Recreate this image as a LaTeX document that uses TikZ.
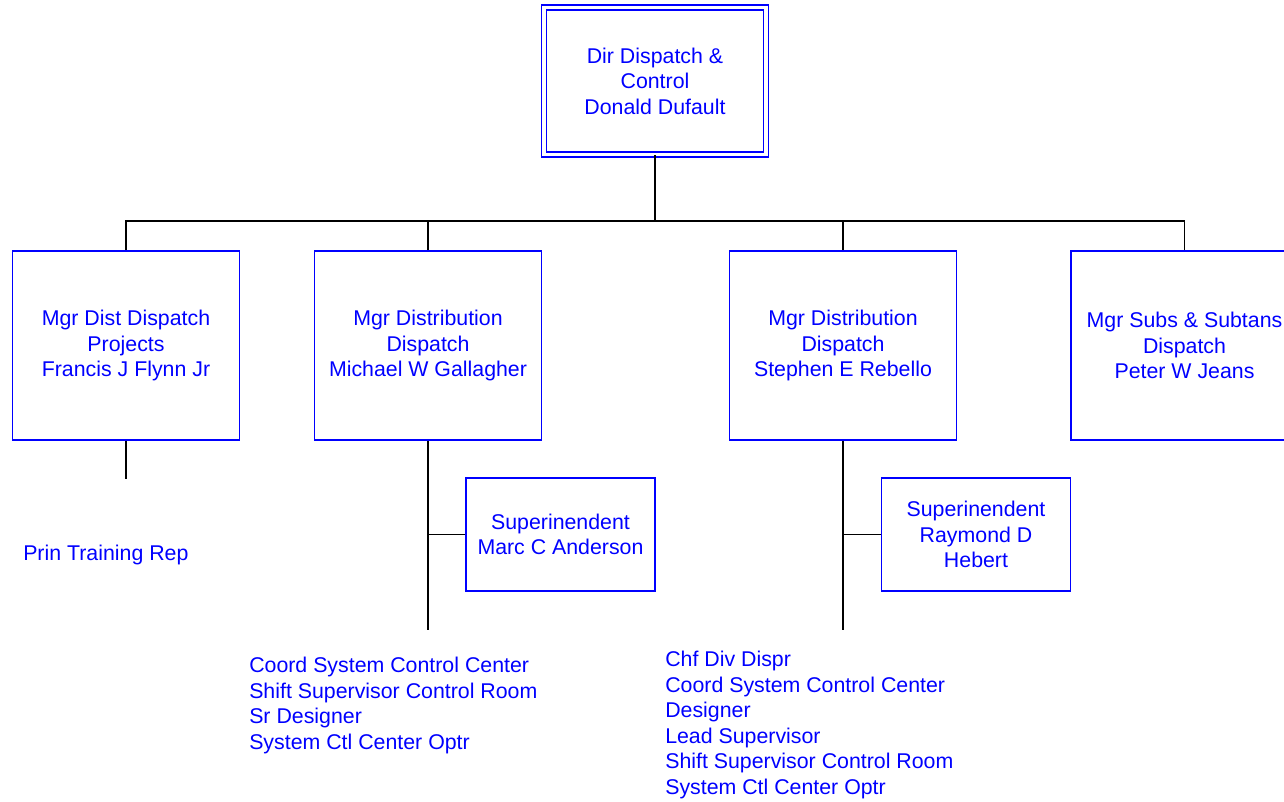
\documentclass[tikz,border=0pt]{standalone}
\usepackage{fontspec}
\setmainfont{Liberation Sans}
\usepackage{tikz}
\usetikzlibrary{positioning}
\definecolor{orgblue}{RGB}{0,0,255}
\newcommand{\orgfont}{\fontsize{16pt}{19.1pt}\selectfont}
\tikzset{
    posbox/.style = {rectangle,draw=orgblue,line width=1.2pt,text=orgblue,font=\orgfont,align=center,inner sep=0pt},
    dirbox/.style = {posbox,double=white,double distance=2.4pt,minimum width=166.5pt,minimum height=110.25pt},
    mgrbox/.style = {posbox,minimum width=170.25pt,minimum height=141.75pt},
    supbox/.style = {posbox,minimum width=141.75pt,minimum height=84.75pt},
    stafflist/.style = {text=orgblue,font=\orgfont,align=left,inner sep=0pt,anchor=north west},
    link/.style = {draw=black,line width=1.2pt}}
\begin{document}
\begin{tikzpicture}[x=0.75pt,y=-0.75pt]
    \useasboundingbox (0,0) rectangle (1284,802);
    \path (655,81) node[dirbox] (dir) {Dir Dispatch \&\\Control\\Donald Dufault}
        + (0,140) coordinate (bus)
        (126,345.5) node[mgrbox] (flynn) {Mgr Dist Dispatch\\Projects\\Francis J Flynn Jr}
        + (0,133.5) coordinate (flynnend)
        (428,345.5) node[mgrbox] (gallagher) {Mgr Distribution\\Dispatch\\Michael W Gallagher}
        + (0,284.5) coordinate (gallagherend)
        + (132.5,189) node[supbox] (anderson) {Superinendent\\Marc C Anderson}
        (843,345.5) node[mgrbox] (rebello) {Mgr Distribution\\Dispatch\\Stephen E Rebello}
        + (0,284.5) coordinate (rebelloend)
        + (133,189) node[supbox] (hebert) {Superinendent\\Raymond D\\Hebert}
        (1184.5,345.5) node[mgrbox] (jeans) {Mgr Subs \& Subtans\\Dispatch\\Peter W Jeans};
    \path (23,545) node[stafflist] (flynnstaff) {Prin Training Rep}
        (249,657) node[stafflist] (gallagherstaff) {Coord System Control Center\\Shift Supervisor Control Room\\Sr Designer\\System Ctl Center Optr}
        (665,651) node[stafflist] (rebellostaff) {Chf Div Dispr\\Coord System Control Center\\Designer\\Lead Supervisor\\Shift Supervisor Control Room\\System Ctl Center Optr};
    % reporting lines
    \draw[link] (dir.south) -- (bus);
    \draw[link] (flynn.north) |- (bus) -| (jeans.north);
    \draw[link] (gallagher.north) -- (gallagher.north |- bus);
    \draw[link] (rebello.north) -- (rebello.north |- bus);
    \draw[link] (flynn.south) -- (flynnend);
    \draw[link] (gallagher.south) -- (gallagherend);
    \draw[link] (gallagher.south |- anderson.west) -- (anderson.west);
    \draw[link] (rebello.south) -- (rebelloend);
    \draw[link] (rebello.south |- hebert.west) -- (hebert.west);
\end{tikzpicture}
\end{document}
